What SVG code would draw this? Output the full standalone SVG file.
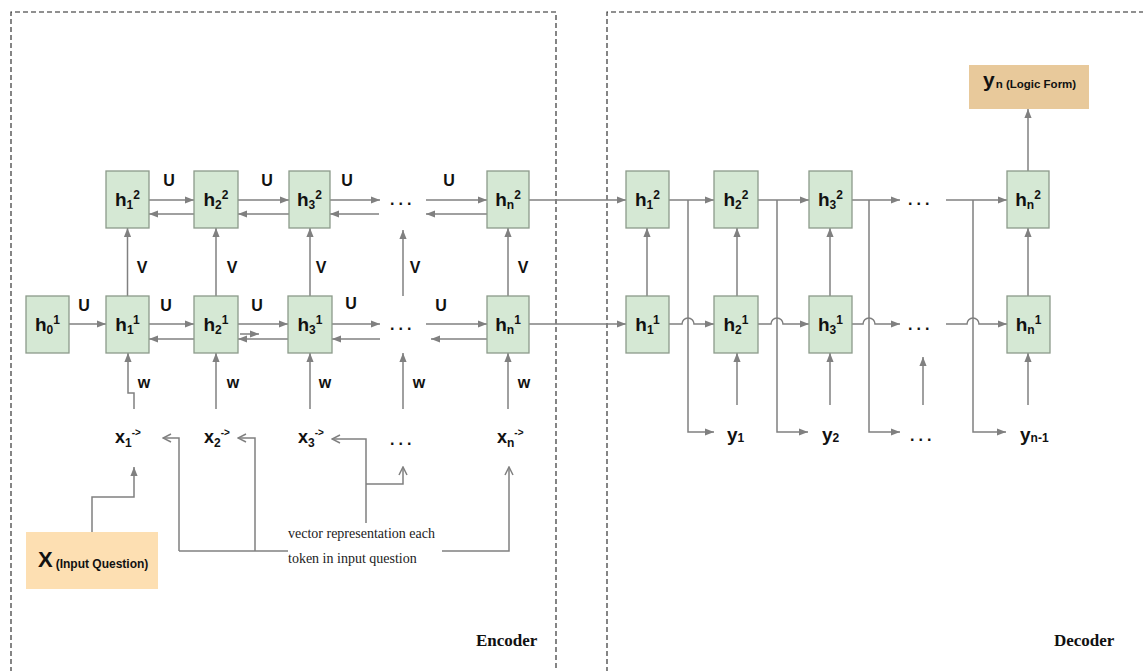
<svg xmlns="http://www.w3.org/2000/svg" width="1143" height="671" viewBox="0 0 1143 671">
<style>
.box{fill:#d5e8d4;stroke:#8c9a8a;stroke-width:1.3}
.ln{fill:none;stroke:#808080;stroke-width:1.5}
.ar{marker-end:url(#a)}
.oa{marker-end:url(#o)}
.dash{fill:none;stroke:#222;stroke-width:1.1;stroke-dasharray:5 3}
.h{font-family:"Liberation Sans",Arial,sans-serif;font-weight:bold;font-size:19px;fill:#111;text-anchor:middle}
.s{font-size:12px}
.lb{font-family:"Liberation Sans",Arial,sans-serif;font-weight:bold;font-size:16px;fill:#111;text-anchor:middle}
.dots{font-family:"Liberation Sans",Arial,sans-serif;font-weight:bold;font-size:16px;fill:#111;letter-spacing:4px}
.sf{font-family:"Liberation Serif","Times New Roman",serif;font-size:14px;fill:#222}
.ed{font-family:"Liberation Serif","Times New Roman",serif;font-weight:bold;font-size:17px;fill:#111}
</style>
<defs>
<marker id="a" viewBox="0 0 10 10" refX="10" refY="5" markerWidth="9" markerHeight="9" markerUnits="userSpaceOnUse" orient="auto"><path d="M0,1 L10,5 L0,9 z" fill="#808080"/></marker>
<marker id="o" viewBox="0 0 10 10" refX="9" refY="5" markerWidth="10" markerHeight="10" markerUnits="userSpaceOnUse" orient="auto"><path d="M1,1 L9,5 L1,9" fill="none" stroke="#808080" stroke-width="1.5"/></marker>
</defs>
<rect width="1143" height="671" fill="#fff"/>
<g id="frames">
<path class="dash" d="M11,672 V12 H556 V672"/>
<path class="dash" d="M607,672 V12 H1143"/>
<text class="ed" x="476" y="646">Encoder</text>
<text class="ed" x="1054" y="646">Decoder</text>
</g>
<g id="connectors">
<path class="ln ar" d="M149,200 H194"/><path class="ln ar" d="M194,214 H149"/>
<path class="ln ar" d="M238,200 H289"/><path class="ln ar" d="M289,214 H238"/>
<path class="ln ar" d="M330,200 H380"/><path class="ln ar" d="M379,214 H330"/>
<path class="ln ar" d="M426,200 H487"/><path class="ln ar" d="M487,214 H426"/>
<path class="ln ar" d="M69,324 H106"/>
<path class="ln ar" d="M149,324 H194"/><path class="ln ar" d="M194,339 H149"/>
<path class="ln ar" d="M238,324 H288"/><path class="ln ar" d="M288,339 H238"/>
<path class="ln ar" d="M240,334 H259"/>
<path class="ln ar" d="M332,324 H380"/><path class="ln ar" d="M380,339 H332"/>
<path class="ln ar" d="M426,324 H487"/><path class="ln ar" d="M487,339 H431"/>
<path class="ln ar" d="M127.5,296 V228"/>
<path class="ln ar" d="M216,296 V228"/>
<path class="ln ar" d="M310,296 V228"/>
<path class="ln ar" d="M403,296 V230"/>
<path class="ln ar" d="M508,296 V228"/>
<path class="ln ar" d="M134,409 V393 H128 V353"/>
<path class="ln ar" d="M216,409 V353"/>
<path class="ln ar" d="M310,409 V353"/>
<path class="ln ar" d="M403,409 V353"/>
<path class="ln ar" d="M508,409 V353"/>
<path class="ln ar" d="M92,532 V497 H134 V467"/>
<path class="ln oa" d="M179,551 V438 H163"/>
<path class="ln oa" d="M255,551 V438 H238"/>
<path class="ln" d="M179,551 H288"/>
<path class="ln oa" d="M366,523 V439 H332"/>
<path class="ln oa" d="M366,484 H403 V467"/>
<path class="ln oa" d="M442,551 H509 V467"/>
<path class="ln ar" d="M529,200 H626"/>
<path class="ln ar" d="M529,324 H626"/>
<path class="ln ar" d="M647,296 V228"/>
<path class="ln ar" d="M737,296 V228"/>
<path class="ln ar" d="M830,296 V228"/>
<path class="ln ar" d="M1028,296 V228"/>
<path class="ln ar" d="M1028,171 V109"/>
<path class="ln ar" d="M669,200 H714"/>
<path class="ln ar" d="M758,200 H809"/>
<path class="ln ar" d="M852,200 H900"/>
<path class="ln ar" d="M946,200 H1007"/>
<path class="ln ar" d="M669,324 H682 A6,6 0 0 1 694,324 H714"/>
<path class="ln ar" d="M758,324 H771 A6,6 0 0 1 783,324 H809"/>
<path class="ln ar" d="M852,324 H863 A6,6 0 0 1 875,324 H900"/>
<path class="ln ar" d="M946,324 H967 A6,6 0 0 1 979,324 H1007"/>
<path class="ln ar" d="M688,200 V432 H714"/>
<path class="ln ar" d="M777,200 V432 H808"/>
<path class="ln ar" d="M869,200 V432 H900"/>
<path class="ln ar" d="M973,200 V432 H1006"/>
<path class="ln ar" d="M737,405 V353"/>
<path class="ln ar" d="M830,405 V353"/>
<path class="ln ar" d="M923,405 V357"/>
<path class="ln ar" d="M1028,405 V353"/>
</g>
<g id="edge-labels">
<text class="lb" x="169" y="186">U</text>
<text class="lb" x="267" y="186">U</text>
<text class="lb" x="347" y="186">U</text>
<text class="lb" x="449" y="186">U</text>
<text class="lb" x="84" y="311">U</text>
<text class="lb" x="166" y="311">U</text>
<text class="lb" x="257" y="311">U</text>
<text class="lb" x="351" y="309">U</text>
<text class="lb" x="441" y="311">U</text>
<text class="lb" x="142" y="273">V</text>
<text class="lb" x="232" y="273">V</text>
<text class="lb" x="321" y="273">V</text>
<text class="lb" x="415" y="273">V</text>
<text class="lb" x="523" y="273">V</text>
<text class="lb" x="144" y="388">w</text>
<text class="lb" x="233" y="388">w</text>
<text class="lb" x="325" y="388">w</text>
<text class="lb" x="419" y="388">w</text>
<text class="lb" x="524" y="388">w</text>
<text class="dots" x="390" y="205">...</text>
<text class="dots" x="390" y="330">...</text>
<text class="dots" x="390" y="445">...</text>
<text class="dots" x="908" y="205">...</text>
<text class="dots" x="908" y="330">...</text>
<text class="dots" x="910" y="441">...</text>
</g>
<g id="enc-h0-1"><rect class="box" x="26" y="296" width="43" height="57"/><text class="h" x="47.5" y="331">h<tspan class="s" dy="3">0</tspan><tspan class="s" dy="-10">1</tspan></text></g>
<g id="enc-h1-1"><rect class="box" x="106" y="296" width="43" height="57"/><text class="h" x="127.5" y="331">h<tspan class="s" dy="3">1</tspan><tspan class="s" dy="-10">1</tspan></text></g>
<g id="enc-h2-1"><rect class="box" x="194" y="296" width="44" height="57"/><text class="h" x="216" y="331">h<tspan class="s" dy="3">2</tspan><tspan class="s" dy="-10">1</tspan></text></g>
<g id="enc-h3-1"><rect class="box" x="288" y="296" width="44" height="57"/><text class="h" x="310" y="331">h<tspan class="s" dy="3">3</tspan><tspan class="s" dy="-10">1</tspan></text></g>
<g id="enc-hn-1"><rect class="box" x="487" y="296" width="42" height="57"/><text class="h" x="508" y="331">h<tspan class="s" dy="3">n</tspan><tspan class="s" dy="-10">1</tspan></text></g>
<g id="enc-h1-2"><rect class="box" x="106" y="171" width="43" height="57"/><text class="h" x="127.5" y="206">h<tspan class="s" dy="3">1</tspan><tspan class="s" dy="-10">2</tspan></text></g>
<g id="enc-h2-2"><rect class="box" x="194" y="171" width="44" height="57"/><text class="h" x="216" y="206">h<tspan class="s" dy="3">2</tspan><tspan class="s" dy="-10">2</tspan></text></g>
<g id="enc-h3-2"><rect class="box" x="289" y="171" width="41" height="57"/><text class="h" x="309.5" y="206">h<tspan class="s" dy="3">3</tspan><tspan class="s" dy="-10">2</tspan></text></g>
<g id="enc-hn-2"><rect class="box" x="487" y="171" width="42" height="57"/><text class="h" x="508" y="206">h<tspan class="s" dy="3">n</tspan><tspan class="s" dy="-10">2</tspan></text></g>
<g id="dec-h1-2"><rect class="box" x="626" y="171" width="43" height="57"/><text class="h" x="647.5" y="206">h<tspan class="s" dy="3">1</tspan><tspan class="s" dy="-10">2</tspan></text></g>
<g id="dec-h2-2"><rect class="box" x="714" y="171" width="44" height="57"/><text class="h" x="736" y="206">h<tspan class="s" dy="3">2</tspan><tspan class="s" dy="-10">2</tspan></text></g>
<g id="dec-h3-2"><rect class="box" x="809" y="171" width="43" height="57"/><text class="h" x="830.5" y="206">h<tspan class="s" dy="3">3</tspan><tspan class="s" dy="-10">2</tspan></text></g>
<g id="dec-hn-2"><rect class="box" x="1007" y="171" width="42" height="57"/><text class="h" x="1028" y="206">h<tspan class="s" dy="3">n</tspan><tspan class="s" dy="-10">2</tspan></text></g>
<g id="dec-h1-1"><rect class="box" x="626" y="296" width="43" height="57"/><text class="h" x="647.5" y="331">h<tspan class="s" dy="3">1</tspan><tspan class="s" dy="-10">1</tspan></text></g>
<g id="dec-h2-1"><rect class="box" x="714" y="296" width="44" height="57"/><text class="h" x="736" y="331">h<tspan class="s" dy="3">2</tspan><tspan class="s" dy="-10">1</tspan></text></g>
<g id="dec-h3-1"><rect class="box" x="809" y="296" width="43" height="57"/><text class="h" x="830.5" y="331">h<tspan class="s" dy="3">3</tspan><tspan class="s" dy="-10">1</tspan></text></g>
<g id="dec-hn-1"><rect class="box" x="1007" y="296" width="43" height="57"/><text class="h" x="1028.5" y="331">h<tspan class="s" dy="3">n</tspan><tspan class="s" dy="-10">1</tspan></text></g>
<g id="input-x"><rect x="26" y="532" width="132" height="57" fill="#fddfb2"/><text x="38" y="567" font-family="'Liberation Sans',Arial,sans-serif" font-weight="bold" font-size="22" fill="#111">X<tspan font-size="12" dx="3" dy="1">(Input Question)</tspan></text></g>
<g id="output-yn"><rect x="969" y="65" width="120" height="44" fill="#e8c99b"/><text x="983" y="87" font-family="'Liberation Sans',Arial,sans-serif" font-weight="bold" font-size="21" fill="#111">y<tspan font-size="11.5" dx="1" dy="1">n (Logic Form)</tspan></text></g>
<g id="x-tokens" font-family="'Liberation Sans',Arial,sans-serif" font-weight="bold" font-size="18" fill="#111">
<text x="115" y="443">x<tspan font-size="12" dy="4">1</tspan><tspan font-size="10" dy="-11">-&gt;</tspan></text>
<text x="204" y="443">x<tspan font-size="12" dy="4">2</tspan><tspan font-size="10" dy="-11">-&gt;</tspan></text>
<text x="298" y="443">x<tspan font-size="12" dy="4">3</tspan><tspan font-size="10" dy="-11">-&gt;</tspan></text>
<text x="497" y="443">x<tspan font-size="12" dy="4">n</tspan><tspan font-size="10" dy="-11">-&gt;</tspan></text>
</g>
<g id="y-tokens" font-family="'Liberation Sans',Arial,sans-serif" font-weight="bold" font-size="19" fill="#111">
<text x="727" y="441">y<tspan font-size="12" dy="1">1</tspan></text>
<text x="822" y="441">y<tspan font-size="12" dy="1">2</tspan></text>
<text x="1020" y="441">y<tspan font-size="12" dy="1">n-1</tspan></text>
</g>
<g id="vector-note">
<text class="sf" x="288" y="538">vector representation each</text>
<text class="sf" x="288" y="563">token in input question</text>
</g>
</svg>
